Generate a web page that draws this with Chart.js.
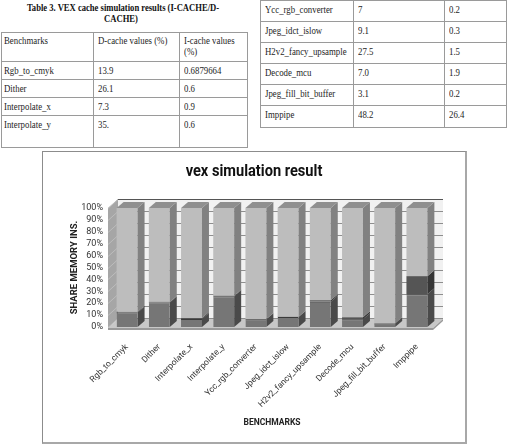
<!DOCTYPE html>
<html><head><meta charset="utf-8">
<script src="https://cdn.jsdelivr.net/npm/chart.js@4.4.1/dist/chart.umd.min.js"></script>
<style>
html,body{margin:0;padding:0;background:#fff;width:507px;height:445px;overflow:hidden;}
body{position:relative;}
.hl{position:absolute;height:1px;background:#9a9a9a}
.vl{position:absolute;width:1px;background:#9a9a9a}
.t{position:absolute;font-family:'Liberation Serif','Times New Roman',serif;font-size:11px;line-height:12px;color:#1e1e1e;white-space:nowrap;transform:scaleX(0.8);transform-origin:0 50%}
.cap{position:absolute;font-family:'Liberation Serif','Times New Roman',serif;font-weight:bold;font-size:11px;line-height:12px;color:#111;white-space:nowrap;transform:translateX(-50%) scaleX(0.78);}
#frame{position:absolute;left:42px;top:151px;width:422px;height:290px;border:1px solid #8c8c8c;border-right:2px solid #a8a8a8;border-bottom:2px solid #a8a8a8}
#wrap{position:absolute;left:43px;top:152px;width:422px;height:290px}
#ctitle{position:absolute;left:254px;top:160px;font-family:Roboto,sans-serif;font-weight:bold;font-size:17px;line-height:20px;color:#111;white-space:nowrap;transform:translateX(-50%) scaleX(0.86);}
</style>
</head><body>
<div id="tables"></div>
<div id="frame"></div>
<div id="wrap"><canvas id="c" width="422" height="290"></canvas></div>
<div id="ctitle">vex simulation result</div>
<script>
// ---- data ----
const categories = ['Rgb_to_cmyk','Dither','Interpolate_x','Interpolate_y','Ycc_rgb_converter','Jpeg_idct_islow','H2v2_fancy_upsample','Decode_mcu','Jpeg_fill_bit_buffer','Imppipe'];
const dCache = [13.9, 26.1, 7.3, 35, 7, 9.1, 27.5, 7.0, 3.1, 48.2];
const iCache = [0.6879664, 0.6, 0.9, 0.6, 0.2, 0.3, 1.5, 1.9, 0.2, 26.4];
const remainder = [100, 100, 100, 100, 100, 100, 100, 100, 100, 100];
const dCacheText = ['13.9','26.1','7.3','35.','7','9.1','27.5','7.0','3.1','48.2'];
const iCacheText = ['0.6879664','0.6','0.9','0.6','0.2','0.3','1.5','1.9','0.2','26.4'];
const yTickStep = 10;

// ---- tables ----
(function(){
  let h = '';
  const hl=(x,y,w)=>`<div class="hl" style="left:${x}px;top:${y}px;width:${w}px"></div>`;
  const vl=(x,y,hh)=>`<div class="vl" style="left:${x}px;top:${y}px;height:${hh}px"></div>`;
  const tx=(x,cy,s)=>`<div class="t" style="left:${x}px;top:${cy-6}px">${s}</div>`;
  h += `<div class="cap" style="left:123px;top:1px">Table 3. VEX cache simulation results (I-CACHE/D-</div>`;
  h += `<div class="cap" style="left:121px;top:12px">CACHE)</div>`;
  const lRows=[32,61,79,97,115,147];
  lRows.forEach(y=>h+=hl(1,y,247));
  [1,93,179,247].forEach(x=>h+=vl(x,32,116));
  h+=tx(4,40,'Benchmarks')+tx(98,40,'D-cache values (%)')+tx(184,40,'I-cache values')+tx(184,51,'(%)');
  for(let i=0;i<4;i++){const cy=lRows[i+1]+9;h+=tx(4,cy,categories[i])+tx(98,cy,dCacheText[i])+tx(184,cy,iCacheText[i]);}
  const rRows=[0,21,42,63,84,105,127];
  rRows.forEach(y=>h+=hl(260,y,247));
  [260,353,444,506].forEach(x=>h+=vl(x,0,128));
  for(let i=4;i<10;i++){const cy=rRows[i-4]+9;h+=tx(265,cy,categories[i])+tx(358,cy,dCacheText[i])+tx(449,cy,iCacheText[i]);}
  document.getElementById('tables').innerHTML=h;
})();

// ---- chart ----
const totals = categories.map((_,i)=>dCache[i]+iCache[i]+remainder[i]);
const pct = arr => arr.map((v,i)=>v/totals[i]*100);
const frontColors=['#767676','#555555','#bdbdbd'];
const sideColors=['#4a4a4a','#363636','#818181'];
const topColor='#8f8f8f';
const W={dx:10,dy:-9}, Bd={dx:7,dy:-6};

function poly(ctx,pts,fill){
  ctx.beginPath();ctx.moveTo(pts[0][0],pts[0][1]);
  for(let i=1;i<pts.length;i++)ctx.lineTo(pts[i][0],pts[i][1]);
  ctx.closePath();
  ctx.fillStyle=fill;ctx.fill();
}
const threeD={
  id:'threeD',
  beforeDatasetsDraw(chart){
    const {ctx,chartArea:a,scales:{y}}=chart;
    const L=a.left-3,R=a.right,T=a.top,B=a.bottom+1;
    ctx.save();
    poly(ctx,[[L,T],[L+W.dx,T+W.dy],[L+W.dx,B+W.dy],[L,B]],'#a6a6a6');
    poly(ctx,[[L+W.dx,T+W.dy],[R+W.dx,T+W.dy],[R+W.dx,B+W.dy],[L+W.dx,B+W.dy]],'#f1f1f1');
    poly(ctx,[[L,B],[L+W.dx,B+W.dy],[R+W.dx,B+W.dy],[R,B]],'#c8c8c8');
    ctx.fillStyle='#9a9a9a';ctx.fillRect(L,B,R-L,2);
    poly(ctx,[[R,B],[R+W.dx,B+W.dy],[R+W.dx,B+W.dy+2],[R,B+2]],'#9a9a9a');
    y.ticks.forEach(t=>{
      const py=Math.round(y.getPixelForValue(t.value))+0.5;
      ctx.strokeStyle=t.value===100?'#555':'#8e8e8e';ctx.lineWidth=1;
      ctx.beginPath();ctx.moveTo(L+W.dx,py+W.dy);ctx.lineTo(R+W.dx,py+W.dy);ctx.stroke();
      ctx.strokeStyle='#bdbdbd';
      ctx.beginPath();ctx.moveTo(L,py);ctx.lineTo(L+W.dx,py+W.dy);ctx.stroke();
    });
    ctx.restore();
  },
  afterDatasetsDraw(chart){
    const ctx=chart.ctx;
    ctx.save();
    const n=chart.data.datasets.length;
    for(let d=0;d<n;d++){
      chart.getDatasetMeta(d).data.forEach(el=>{
        const p=el.getProps(['x','y','base','width'],true);
        const top=Math.min(p.y,p.base),bot=Math.max(p.y,p.base);
        const xr=p.x+p.width/2,xl=p.x-p.width/2;
        poly(ctx,[[xr,top],[xr+Bd.dx,top+Bd.dy],[xr+Bd.dx,bot+Bd.dy],[xr,bot]],sideColors[d]);
        if(d===n-1) poly(ctx,[[xl,top],[xl+Bd.dx,top+Bd.dy],[xr+Bd.dx,top+Bd.dy],[xr,top]],topColor);
      });
    }
    ctx.restore();
  }
};

const chartFont="Roboto, sans-serif";
function build(){
new Chart(document.getElementById('c'),{
  type:'bar',
  data:{
    labels:categories,
    datasets:[
      {label:'D-cache',data:pct(dCache),backgroundColor:frontColors[0],borderColor:'#3a3a3a',borderWidth:{top:1,left:0,right:0,bottom:0},borderSkipped:false},
      {label:'I-cache',data:pct(iCache),backgroundColor:frontColors[1],borderWidth:0},
      {label:'Share memory',data:pct(remainder),backgroundColor:frontColors[2],borderWidth:0}
    ]
  },
  options:{
    responsive:false,animation:false,
    layout:{padding:{top:56,right:32,left:0,bottom:0}},
    datasets:{bar:{categoryPercentage:1,barPercentage:0.65}},
    plugins:{legend:{display:false},tooltip:{enabled:false},title:{display:false}},
    scales:{
      x:{stacked:true,grid:{display:false,drawTicks:false},border:{display:false},
        ticks:{autoSkip:false,minRotation:45,maxRotation:45,padding:15,color:'#333',font:{family:chartFont,size:8.5}},
        title:{display:true,text:'BENCHMARKS',color:'#222',font:{family:chartFont,size:8.5,weight:'bold',lineHeight:1.2},padding:{top:0,bottom:14}},
        afterFit(s){s.height=115;}
      },
      y:{stacked:true,min:0,max:100,grid:{display:false,drawTicks:false},border:{display:false},
        ticks:{stepSize:yTickStep,autoSkip:false,padding:8,color:'#333',font:{family:chartFont,size:9},callback:v=>v+'%'},
        title:{display:true,text:'SHARE MEMORY INS.',color:'#222',font:{family:chartFont,size:9.5,weight:'bold',lineHeight:1.2},padding:{top:26,bottom:0}},
        afterFit(s){s.width=68;}
      }
    }
  },
  plugins:[threeD]
});
}
Promise.all([document.fonts.load("bold 16px Roboto"),document.fonts.load("9px Roboto")]).then(build,build);
</script>
</body></html>
